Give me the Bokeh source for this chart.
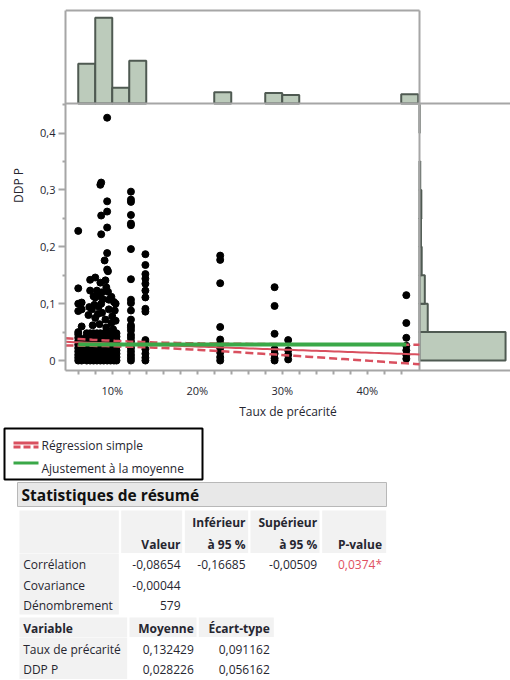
import numpy as np
from bokeh.plotting import figure
from bokeh.models import Range1d, FixedTicker, CustomJSTickFormatter
from bokeh.embed import file_html
from bokeh.resources import INLINE
from bokeh.core.properties import value

# ---------------- data ----------------
# scatter: vertical columns of points (x = Taux de précarité, y = DDP P)
col_x = [0.060, 0.064, 0.122, 0.139, 0.227, 0.291, 0.307, 0.446]
col_y = [
    [0.228, 0.127, 0.100, 0.087, 0.050, 0.046, 0.040, 0.034, 0.028, 0.022, 0.016, 0.010, 0.005, 0.0],
    [0.102, 0.090, 0.060, 0.038, 0.030, 0.020, 0.012, 0.004, 0.0],
    [0.297, 0.283, 0.279, 0.256, 0.241, 0.238, 0.196, 0.143, 0.107, 0.101, 0.088, 0.072, 0.062,
     0.058, 0.053, 0.045, 0.040, 0.034, 0.028, 0.022, 0.016, 0.010, 0.005, 0.0],
    [0.187, 0.168, 0.152, 0.144, 0.135, 0.123, 0.111, 0.091, 0.086, 0.036, 0.030, 0.020, 0.012, 0.005, 0.0],
    [0.1845, 0.177, 0.136, 0.059, 0.037, 0.030, 0.022, 0.014, 0.006, 0.0],
    [0.129, 0.096, 0.047, 0.020, 0.012, 0.004, 0.0],
    [0.036, 0.018, 0.010, 0.002],
    [0.115, 0.066, 0.040, 0.026, 0.018, 0.010, 0.003],
]
# dense cluster between 7 % and 10.5 %
cluster_x = [0.094, 0.087, 0.086, 0.094, 0.094, 0.087, 0.094, 0.087, 0.094, 0.091, 0.094, 0.095,
             0.074, 0.080, 0.086, 0.092, 0.093, 0.074, 0.082, 0.088, 0.095, 0.078, 0.084, 0.089,
             0.096, 0.080, 0.073, 0.102, 0.104, 0.103, 0.099,
             0.072, 0.076, 0.077, 0.080, 0.084, 0.085, 0.088, 0.092, 0.093, 0.096, 0.100, 0.101,
             0.104, 0.087, 0.083, 0.099, 0.079]
cluster_y = [0.427, 0.313, 0.309, 0.280, 0.262, 0.255, 0.234, 0.222, 0.189, 0.176, 0.160, 0.157,
             0.142, 0.146, 0.137, 0.141, 0.129, 0.123, 0.123, 0.120, 0.121, 0.113, 0.114, 0.108,
             0.107, 0.111, 0.094, 0.103, 0.100, 0.088, 0.112,
             0.080, 0.090, 0.062, 0.075, 0.095, 0.064, 0.084, 0.072, 0.058, 0.090, 0.078, 0.055,
             0.070, 0.100, 0.082, 0.066, 0.098]
# solid block of overlapping points at the bottom of the cluster
block_x = [0.070, 0.074, 0.078, 0.082, 0.086, 0.090, 0.094, 0.098, 0.102, 0.105]
block_y = [0.0, 0.006, 0.012, 0.018, 0.024, 0.030, 0.036, 0.042, 0.048]

# marginal histograms
top_bin_left = [0.06, 0.08, 0.10, 0.12, 0.22, 0.28, 0.30, 0.44]
top_bin_width = 0.02
top_counts = [103, 222, 41, 111, 29, 27, 22, 24]
right_bin_lo = [0.0, 0.05, 0.10, 0.15, 0.20, 0.25, 0.30, 0.40]
right_bin_width = 0.05
right_counts = [470, 45, 29, 12, 8, 10, 4, 1]

# summary statistics
n_obs = 579
corr, corr_lo, corr_hi, p_value = -0.08654, -0.16685, -0.00509, 0.0374
covariance = -0.00044
var_names = ["Taux de précarité", "DDP P"]
var_mean = [0.132429, 0.028226]
var_sd = [0.091162, 0.056162]

x_ticks = [0.1, 0.2, 0.3, 0.4]
x_minor = [0.06, 0.08, 0.12, 0.14, 0.16, 0.18, 0.22, 0.24, 0.26, 0.28, 0.32, 0.34, 0.36, 0.38, 0.42, 0.44]
y_ticks = [0.0, 0.1, 0.2, 0.3, 0.4]
y_minor = [0.05, 0.15, 0.25, 0.35, 0.45]

# ---------------- layout / style ----------------
FONT = "Open Sans"
TXT = "#262630"
AX = "#a6a6a6"
RED = "#d9505f"
GREEN = "#3aa848"
BAR_FILL = "#bccbbb"
BAR_LINE = "#4f5a52"

W = 510
PX_L, PX_R, PX_END = 65, 419, 510
PY_HTOP, PY_BASE, PY_BOT = 10, 103, 370
MAIN_H = 422
X_LO, X_HI = 0.045, 0.4615
Y_LO, Y_HI = -0.0175, 0.452
ux = (PX_R - PX_L) / (X_HI - X_LO)
uy = (PY_BOT - PY_BASE) / (Y_HI - Y_LO)
x_end = X_LO + (PX_END - PX_L) / ux
y_top = Y_LO + PY_BOT / uy


def ydat(py):
    return Y_LO + (PY_BOT - py) / uy


TOP_MAX = 241      # count reaching the top border of the upper histogram
RIGHT_MAX = 497    # count reaching the right window edge

p = figure(width=W, height=MAIN_H, x_range=Range1d(X_LO, x_end), y_range=Range1d(Y_LO, y_top),
           min_border_left=PX_L, min_border_right=0, min_border_top=0,
           min_border_bottom=MAIN_H - PY_BOT, output_backend="svg", toolbar_location=None,
           outline_line_color=None)
p.grid.visible = False
p.extra_y_ranges = {"top": Range1d(-(PY_BOT - PY_BASE) * TOP_MAX / (PY_BASE - PY_HTOP),
                                   PY_BASE * TOP_MAX / (PY_BASE - PY_HTOP))}
p.extra_x_ranges = {"right": Range1d(-(PX_R - PX_L) * RIGHT_MAX / (PX_END - PX_R), RIGHT_MAX)}

# histograms
p.quad(left=top_bin_left, right=[v + top_bin_width for v in top_bin_left], bottom=0, top=top_counts,
       y_range_name="top", fill_color=BAR_FILL, line_color=BAR_LINE, line_width=2)
p.quad(left=0, right=right_counts, bottom=right_bin_lo,
       top=[v + right_bin_width for v in right_bin_lo], x_range_name="right",
       fill_color=BAR_FILL, line_color=BAR_LINE, line_width=2)

# frame lines of the marginal panels
p.segment(x0=[X_LO, X_HI, X_LO], y0=[ydat(PY_HTOP), ydat(PY_HTOP), Y_HI],
          x1=[X_HI, X_HI, x_end], y1=[ydat(PY_HTOP), Y_LO, Y_HI], line_color=AX, line_width=2)

# scatter points
sx, sy = [], []
for cx, ys in zip(col_x, col_y):
    sx += [cx] * len(ys)
    sy += ys
sx += cluster_x
sy += cluster_y
for bx in block_x:
    sx += [bx] * len(block_y)
    sy += block_y
p.scatter(sx, sy, size=7, color="black")

# regression and mean fit
mx, my = var_mean
sdx, sdy = var_sd
slope = corr * sdy / sdx
intercept = my - slope * mx
s_res = sdy * np.sqrt((1 - corr ** 2) * (n_obs - 1) / (n_obs - 2))
sxx = (n_obs - 1) * sdx ** 2
t_crit = 1.9641
xg = np.linspace(X_LO, X_HI, 80)
fit = intercept + slope * xg
half = t_crit * s_res * np.sqrt(1 / n_obs + (xg - mx) ** 2 / sxx)
p.line(xg, fit, line_color=RED, line_width=2)
p.line(xg, fit - half, line_color=RED, line_width=2.5, line_dash="8 4")
p.line(xg, fit + half, line_color=RED, line_width=2.5, line_dash="8 4")
p.line([min(sx), max(sx)], [my, my], line_color=GREEN, line_width=4)

# axes
xa, ya = p.xaxis[0], p.yaxis[0]
xa.ticker = FixedTicker(ticks=x_ticks, minor_ticks=x_minor)
ya.ticker = FixedTicker(ticks=y_ticks, minor_ticks=y_minor)
xa.formatter = CustomJSTickFormatter(code="return Math.round(tick*100) + '%';")
ya.formatter = CustomJSTickFormatter(code="return tick == 0 ? '0' : tick.toFixed(1).replace('.', ',');")
xa.bounds = (X_LO, x_end)
ya.bounds = (Y_LO, ydat(PY_HTOP))
xa.axis_label = "Taux de précarité"
ya.axis_label = "DDP P"
for a in (xa, ya):
    a.axis_line_color = AX
    a.axis_line_width = 2
    a.major_tick_line_color = AX
    a.minor_tick_line_color = AX
    a.major_tick_line_width = 2
    a.minor_tick_line_width = 2
    a.major_tick_in = 0
    a.minor_tick_in = 0
    a.major_label_text_font = FONT
    a.major_label_text_font_size = "11px"
    a.major_label_text_color = TXT
    a.axis_label_text_font = FONT
    a.axis_label_text_font_size = "12px"
    a.axis_label_text_font_style = "normal"
    a.axis_label_text_color = TXT
xa.major_tick_out = 4
xa.minor_tick_out = 4
xa.major_label_standoff = 8
xa.axis_label_standoff = 2
ya.major_tick_out = 7
ya.minor_tick_out = 3
ya.major_label_standoff = 3
ya.axis_label_standoff = 10

# ---------------- legend + summary table (page pixel coordinates) ----------------
BOT_H = 680 - MAIN_H
q = figure(width=W, height=BOT_H, x_range=Range1d(0, W), y_range=Range1d(680, MAIN_H),
           x_axis_type=None, y_axis_type=None, min_border=0, output_backend="svg",
           toolbar_location=None, outline_line_color=None)
q.grid.visible = False

# legend
q.quad(left=4, right=202, top=428, bottom=479, fill_color=None, line_color="black", line_width=2)
q.line([13, 38], [442.5, 442.5], line_color=RED, line_width=3)
q.line([13, 38], [446.5, 446.5], line_color=RED, line_width=3, line_dash="7 3")
q.line([13, 38], [462.5, 462.5], line_color=GREEN, line_width=3)
q.text([41, 41], [445, 467.5], text=["Régression simple", "Ajustement à la moyenne"],
       text_font=value(FONT), text_font_size=value("12px"), text_color=TXT,
       text_baseline="middle", text_align="left")

# header
q.quad(left=17, right=386, top=482, bottom=506, fill_color="#e8e8e8", line_color="#b8b8b8", line_width=1)
q.text([21], [494.5], text=["Statistiques de résumé"], text_font=value(FONT),
       text_font_size=value("15.5px"), text_font_style="bold", text_color="#111111",
       text_baseline="middle", text_align="left")

CELL = "#f2f2f2"
# table 1 shading
q.quad(left=[19, 120.7, 184.3, 250, 321.7, 19], right=[118.3, 181.7, 247.7, 319, 385.7, 118.3],
       top=[510, 510, 510, 510, 510, 553], bottom=[552.5, 552.5, 552.5, 552.5, 552.5, 614],
       fill_color=CELL, line_color=None)
# table 2 shading
q.quad(left=[19, 129, 198.3, 19], right=[126.7, 196, 273.3, 126.7],
       top=[617, 617, 617, 637], bottom=[636.5, 636.5, 636.5, 678.5],
       fill_color=CELL, line_color=None)


def fr(v, d):
    return f"{v:.{d}f}".replace(".", ",")


bold = dict(text_font=value(FONT), text_font_size=value("12px"), text_font_style="bold",
            text_color=TXT, text_baseline="middle")
norm = dict(text_font=value(FONT), text_font_size=value("12px"), text_color=TXT,
            text_baseline="middle")

q.text([245, 316.7], [522, 522], text=["Inférieur", "Supérieur"], text_align="right", **bold)
q.text([180, 245, 316.7, 381.5], [544] * 4, text=["Valeur", "à 95 %", "à 95 %", "P-value"],
       text_align="right", **bold)
row_y = [564, 584.5, 605]
q.text([22.7] * 3, row_y, text=["Corrélation", "Covariance", "Dénombrement"], text_align="left", **norm)
q.text([180] * 3, row_y, text=[fr(corr, 5), fr(covariance, 5), str(n_obs)], text_align="right", **norm)
q.text([245, 316.7], [row_y[0]] * 2, text=[fr(corr_lo, 5), fr(corr_hi, 5)], text_align="right", **norm)
q.text([381.5], [row_y[0]], text=[fr(p_value, 4) + "*"], text_align="right",
       text_font=value(FONT), text_font_size=value("12px"), text_color="#e0505f",
       text_baseline="middle")

q.text([22.7], [628], text=["Variable"], text_align="left", **bold)
q.text([193.3, 269.3], [628, 628], text=["Moyenne", "Écart-type"], text_align="right", **bold)
var_y = [648.5, 669]
q.text([22.7] * 2, var_y, text=var_names, text_align="left", **norm)
q.text([193.3] * 2, var_y, text=[fr(v, 6) for v in var_mean], text_align="right", **norm)
q.text([269.3] * 2, var_y, text=[fr(v, 6) for v in var_sd], text_align="right", **norm)

# two independent roots stacked on the page (keeps the frames unaligned)
open("out.html", "w").write(file_html([p, q], INLINE))
